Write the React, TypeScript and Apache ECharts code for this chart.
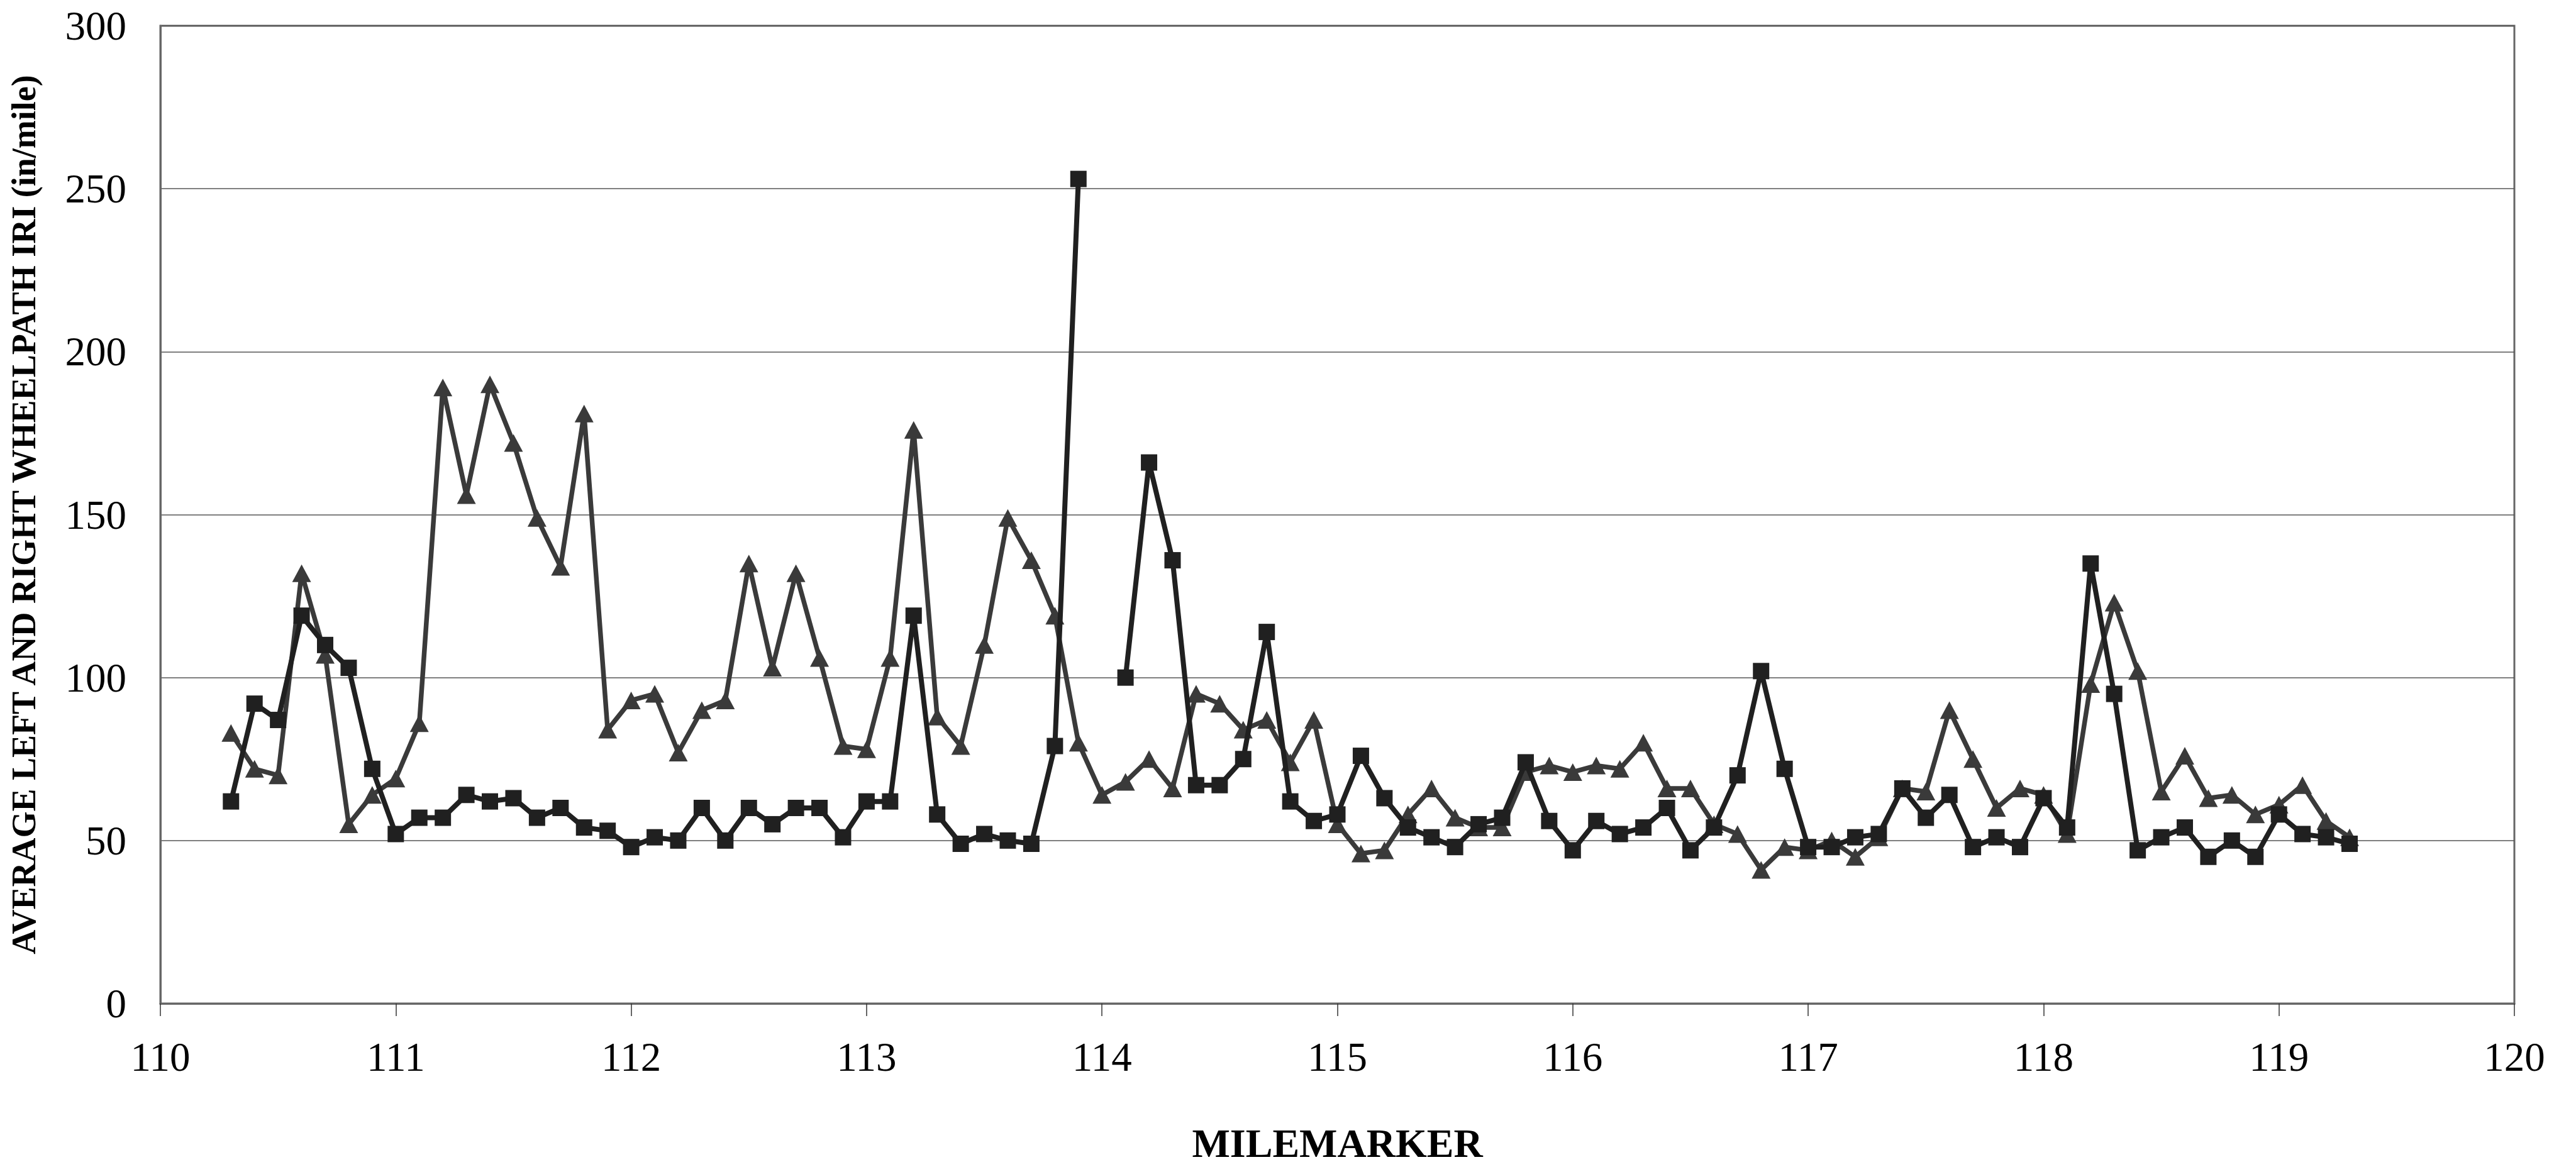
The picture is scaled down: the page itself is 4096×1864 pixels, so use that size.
import React, { useEffect, useRef } from "react";
import * as echarts from "echarts";

const milemarkers = [
  110.3, 110.4, 110.5, 110.6, 110.7, 110.8, 110.9, 111.0, 111.1, 111.2,
  111.3, 111.4, 111.5, 111.6, 111.7, 111.8, 111.9, 112.0, 112.1, 112.2,
  112.3, 112.4, 112.5, 112.6, 112.7, 112.8, 112.9, 113.0, 113.1, 113.2,
  113.3, 113.4, 113.5, 113.6, 113.7, 113.8, 113.9, 114.0, 114.1, 114.2,
  114.3, 114.4, 114.5, 114.6, 114.7, 114.8, 114.9, 115.0, 115.1, 115.2,
  115.3, 115.4, 115.5, 115.6, 115.7, 115.8, 115.9, 116.0, 116.1, 116.2,
  116.3, 116.4, 116.5, 116.6, 116.7, 116.8, 116.9, 117.0, 117.1, 117.2,
  117.3, 117.4, 117.5, 117.6, 117.7, 117.8, 117.9, 118.0, 118.1, 118.2,
  118.3, 118.4, 118.5, 118.6, 118.7, 118.8, 118.9, 119.0, 119.1, 119.2,
  119.3,
];

const triangleSeries = [
  83, 72, 70, 132, 107, 55, 64, 69, 86, 189,
  156, 190, 172, 149, 134, 181, 84, 93, 95, 77,
  90, 93, 135, 103, 132, 106, 79, 78, 106, 176,
  88, 79, 110, 149, 136, 119, 80, 64, 68, 75,
  66, 95, 92, 84, 87, 74, 87, 55, 46, 47,
  58, 66, 57, 54, 54, 71, 73, 71, 73, 72,
  80, 66, 66, 55, 52, 41, 48, 47, 50, 45,
  51, 66, 65, 90, 75, 60, 66, 64, 52, 98,
  123, 102, 65, 76, 63, 64, 58, 61, 67, 56,
  51,
];

const squareSeries: (number | null)[] = [
  62, 92, 87, 119, 110, 103, 72, 52, 57, 57,
  64, 62, 63, 57, 60, 54, 53, 48, 51, 50,
  60, 50, 60, 55, 60, 60, 51, 62, 62, 119,
  58, 49, 52, 50, 49, 79, 253, null, 100, 166,
  136, 67, 67, 75, 114, 62, 56, 58, 76, 63,
  54, 51, 48, 55, 57, 74, 56, 47, 56, 52,
  54, 60, 47, 54, 70, 102, 72, 48, 48, 51,
  52, 66, 57, 64, 48, 51, 48, 63, 54, 135,
  95, 47, 51, 54, 45, 50, 45, 58, 52, 51,
  49,
];

const yTitle = "AVERAGE LEFT AND RIGHT WHEELPATH IRI (in/mile)";
const xTitle = "MILEMARKER";

const FONT = '"Liberation Serif", "Times New Roman", serif';

export default function App() {
  const ref = useRef<HTMLDivElement>(null);

  useEffect(() => {
    if (!ref.current) return;
    const chart = echarts.init(ref.current, null, { renderer: "svg" });
    const tri = milemarkers.map((m, i) => [m, triangleSeries[i]]);
    const sq = milemarkers.map((m, i) => [m, squareSeries[i]]);
    chart.setOption({
      animation: false,
      backgroundColor: "#ffffff",
      grid: {
        left: 255,
        right: 98,
        top: 41,
        bottom: 268,
        show: true,
        borderColor: "#666666",
        borderWidth: 3,
        backgroundColor: "transparent",
      },
      xAxis: {
        type: "value",
        min: 110,
        max: 120,
        interval: 1,
        name: xTitle,
        nameLocation: "middle",
        nameGap: 190,
        nameTextStyle: {
          fontFamily: FONT,
          fontWeight: "bold",
          fontSize: 64,
          color: "#000000",
        },
        axisLine: { show: true, lineStyle: { color: "#666666", width: 3 } },
        axisTick: {
          show: true,
          inside: false,
          length: 20,
          lineStyle: { color: "#333333", width: 1.5 },
        },
        axisLabel: {
          fontFamily: FONT,
          fontSize: 65,
          color: "#000000",
          margin: 52,
        },
        splitLine: { show: false },
      },
      yAxis: {
        type: "value",
        min: 0,
        max: 300,
        interval: 50,
        name: yTitle,
        nameLocation: "middle",
        nameGap: 190,
        nameRotate: 90,
        nameTextStyle: {
          fontFamily: FONT,
          fontWeight: "bold",
          fontSize: 54,
          color: "#000000",
        },
        axisLine: { show: true, lineStyle: { color: "#666666", width: 3 } },
        axisTick: { show: false },
        axisLabel: {
          fontFamily: FONT,
          fontSize: 65,
          color: "#000000",
          margin: 54,
        },
        splitLine: { show: true, lineStyle: { color: "#555555", width: 1.5 } },
      },
      series: [
        {
          type: "line",
          data: tri,
          symbol: "triangle",
          symbolSize: [30, 28],
          showAllSymbol: true,
          lineStyle: { color: "#3a3a3a", width: 7.5 },
          itemStyle: { color: "#3a3a3a", borderWidth: 0 },
          z: 2,
        },
        {
          type: "line",
          data: sq,
          symbol: "rect",
          symbolSize: 26,
          showAllSymbol: true,
          connectNulls: false,
          lineStyle: { color: "#202020", width: 8 },
          itemStyle: { color: "#202020", borderWidth: 0 },
          z: 3,
        },
      ],
    });
    return () => chart.dispose();
  }, []);

  return (
    <div
      ref={ref}
      style={{ position: "fixed", left: 0, top: 0, width: 4096, height: 1864, background: "#fff" }}
    />
  );
}
